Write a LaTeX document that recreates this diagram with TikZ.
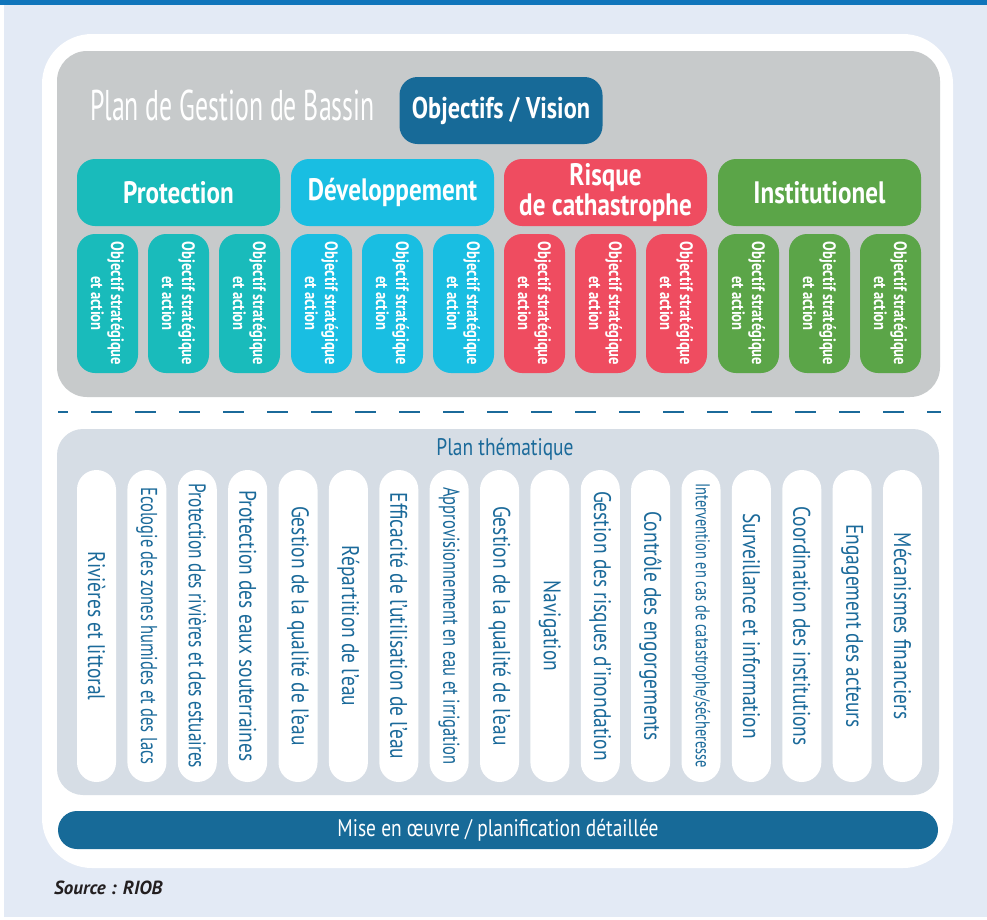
\documentclass[tikz,border=0pt]{standalone}
\usepackage{fontspec}
\setmainfont{PT Sans}
\newfontfamily\titlefont[FakeStretch=0.6]{PT Sans}
\newfontfamily\condfont[FakeStretch=0.81]{PT Sans}
\newfontfamily\narrowfont[FakeStretch=0.72]{PT Sans}

\definecolor{bgblue}{HTML}{E3EAF5}
\definecolor{topblue}{HTML}{1075BB}
\definecolor{panelgray}{HTML}{C7CACB}
\definecolor{darkteal}{HTML}{176A98}
\definecolor{protect}{HTML}{19BBBB}
\definecolor{develop}{HTML}{19BEE2}
\definecolor{risk}{HTML}{EF4C60}
\definecolor{instit}{HTML}{5BA548}
\definecolor{themegray}{HTML}{D6DDE5}
\definecolor{textblue}{HTML}{1B6A9A}
\definecolor{srcgray}{HTML}{231F20}

\begin{document}
\begin{tikzpicture}[x=1pt,y=-1pt,
  catbox/.style={rounded corners=18pt,minimum width=203pt,minimum height=67pt,inner sep=0pt,
    text=white,align=center,font=\condfont\bfseries\fontsize{31}{30}\selectfont},
  objbox/.style={rotate=-90,rounded corners=18pt,minimum width=139pt,minimum height=61pt,inner sep=0pt,
    text=white,align=center,font=\condfont\bfseries\fontsize{18}{20}\selectfont},
  themebox/.style={rotate=-90,fill=white,rounded corners=19.5pt,minimum width=312pt,minimum height=39pt,
    inner sep=0pt,text=textblue,font=\condfont\fontsize{24}{26}\selectfont}]

  \useasboundingbox (0,0) rectangle (987,919);
  \fill[white] (0,0) rectangle (987,919);
  \fill[bgblue] (4,5) rectangle (987,917);
  \fill[topblue] (0,0) rectangle (987,5);
  \fill[white,rounded corners=50pt] (42,34) rectangle (953,868);
  \fill[panelgray,rounded corners=30pt] (57,51) rectangle (940,397);

  \node[anchor=base west,text=white,inner sep=0pt,font=\titlefont\fontsize{43}{48}\selectfont] (title) at (90,120) {Plan de Gestion de Bassin};
  \node[catbox,fill=darkteal,font=\condfont\bfseries\fontsize{30}{30}\selectfont] (vision) at (501,110.5) {Objectifs / Vision};

  \node[catbox,fill=protect] (prot) at (178.5,192.5) {Protection};
  \node[catbox,fill=develop] (dev) at (392.5,192.5) {Développement};
  \node[catbox,fill=risk] (risk) at (605.5,192.5) {Risque\\de cathastrophe};
  \node[catbox,fill=instit] (inst) at (819.5,192.5) {Institutionel};

  \node[objbox,fill=protect] (p1) at (107.5,303.5) {Objectif stratégique\\et action};
  \node[objbox,fill=protect] (p2) at (178.5,303.5) {Objectif stratégique\\et action};
  \node[objbox,fill=protect] (p3) at (249.5,303.5) {Objectif stratégique\\et action};
  \node[objbox,fill=develop] (d1) at (321.5,303.5) {Objectif stratégique\\et action};
  \node[objbox,fill=develop] (d2) at (392.5,303.5) {Objectif stratégique\\et action};
  \node[objbox,fill=develop] (d3) at (463.5,303.5) {Objectif stratégique\\et action};
  \node[objbox,fill=risk] (r1) at (534.5,303.5) {Objectif stratégique\\et action};
  \node[objbox,fill=risk] (r2) at (605.5,303.5) {Objectif stratégique\\et action};
  \node[objbox,fill=risk] (r3) at (676.5,303.5) {Objectif stratégique\\et action};
  \node[objbox,fill=instit] (i1) at (748.5,303.5) {Objectif stratégique\\et action};
  \node[objbox,fill=instit] (i2) at (819.5,303.5) {Objectif stratégique\\et action};
  \node[objbox,fill=instit] (i3) at (890.5,303.5) {Objectif stratégique\\et action};

  \draw[textblue,line width=2pt,dash pattern=on 21pt off 23pt,dash phase=11pt] (58,412) -- (941,412);

  \fill[themegray,rounded corners=26pt] (57,429) rectangle (939,795);
  \node[text=textblue,font=\condfont\fontsize{24}{26}\selectfont] (theme) at (505,449) {Plan thématique};

  \node[themebox] (t1) at (96.5,626) {Rivières et littoral};
  \node[themebox,font=\narrowfont\fontsize{23}{24}\selectfont] (t2) at (146.9,626) {Ecologie des zones humides et des lacs};
  \node[themebox,font=\narrowfont\fontsize{24}{24}\selectfont] (t3) at (197.3,626) {Protection des rivières et des estuaires};
  \node[themebox] (t4) at (247.6,626) {Protection des eaux souterraines};
  \node[themebox] (t5) at (298,626) {Gestion de la qualité de l’eau};
  \node[themebox] (t6) at (348.4,626) {Répartition de l’eau};
  \node[themebox] (t7) at (398.8,626) {Efficacité de l’utilisation de l’eau};
  \node[themebox,font=\narrowfont\fontsize{23}{24}\selectfont] (t8) at (449.1,626) {Approvisionnement en eau et irrigation};
  \node[themebox] (t9) at (499.5,626) {Gestion de la qualité de l’eau};
  \node[themebox] (t10) at (549.9,626) {Navigation};
  \node[themebox] (t11) at (600.3,626) {Gestion des risques d’inondation};
  \node[themebox] (t12) at (650.6,626) {Contrôle des engorgements};
  \node[themebox,font=\narrowfont\fontsize{20}{20}\selectfont] (t13) at (701,626) {Intervention en cas de catastrophe/sécheresse};
  \node[themebox] (t14) at (751.4,626) {Surveillance et information};
  \node[themebox] (t15) at (801.8,626) {Coordination des institutions};
  \node[themebox] (t16) at (852.1,626) {Engagement des acteurs};
  \node[themebox] (t17) at (902.5,626) {Mécanismes financiers};

  \node[fill=darkteal,rounded corners=19pt,minimum width=880pt,minimum height=38pt,inner sep=0pt,
    text=white,font=\condfont\fontsize{24}{26}\selectfont] (impl) at (498,830) {Mise en œuvre / planification détaillée};

  \node[anchor=west,inner sep=0pt,text=srcgray,font=\bfseries\itshape\fontsize{19}{22}\selectfont] (src) at (54,888) {Source : RIOB};

\end{tikzpicture}
\end{document}
